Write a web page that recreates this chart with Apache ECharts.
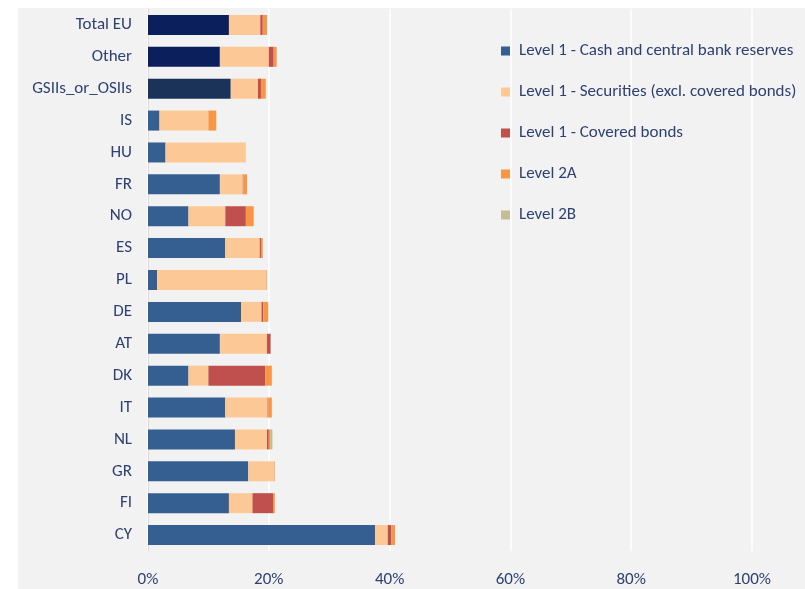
<!DOCTYPE html>
<html>
<head>
<meta charset="utf-8">
<script src="https://cdn.jsdelivr.net/npm/echarts@6/dist/echarts.min.js"></script>
<style>
html,body{margin:0;padding:0;background:#ffffff;}
#chart{position:absolute;left:18px;top:8px;width:787px;height:581px;background:#f2f2f2;}
</style>
</head>
<body>
<div id="chart"></div>
<script>
const categories = ["Total EU","Other","GSIIs_or_OSIIs","IS","HU","FR","NO","ES","PL","DE","AT","DK","IT","NL","GR","FI","CY"];
const seriesNames = ["Level 1 - Cash and central bank reserves","Level 1 - Securities (excl. covered bonds)","Level 1 - Covered bonds","Level 2A","Level 2B"];
const cashReserves = [13.4,11.9,13.7,1.9,2.9,11.9,6.7,12.8,1.5,15.4,11.9,6.7,12.8,14.4,16.6,13.4,37.6];
const securities   = [5.2,8.1,4.5,8.1,13.3,3.8,6.1,5.7,18.1,3.4,7.8,3.3,7.0,5.3,4.3,3.9,2.1];
const coveredBonds = [0.4,0.8,0.5,0,0,0.1,3.4,0.2,0,0.3,0.6,9.4,0.1,0.3,0,3.4,0.6];
const level2A      = [0.7,0.5,0.8,1.3,0,0.6,1.3,0.3,0.1,0.8,0,1.1,0.6,0.2,0.1,0.3,0.6];
const level2B      = [0,0,0,0,0,0,0,0,0,0,0,0,0,0.4,0,0,0];
const xTicks = [0,20,40,60,80,100];
const cashColors = ["#0a1f5c","#0a1f5c","#1b3358"];
const palette = ["#355f91","#fcc996","#c0504d","#f79646","#c4bd97"];

const font = "Carlito, 'Liberation Sans Narrow', Lato, sans-serif";
const txt = "#2f4170";

const chart = echarts.init(document.getElementById('chart'), null, {renderer:'canvas'});
const dataSets = [cashReserves, securities, coveredBonds, level2A, level2B];
const series = seriesNames.map((name, si) => ({
  name: name,
  type: 'bar',
  stack: 'total',
  barWidth: 20,
  itemStyle: {color: palette[si]},
  data: dataSets[si].map((v, i) => (si === 0 && i < cashColors.length) ? {value: v, itemStyle: {color: cashColors[i]}} : v)
}));

chart.setOption({
  backgroundColor: '#f2f2f2',
  animation: false,
  textStyle: {fontFamily: font},
  grid: {left: 130, right: 53, top: 1, bottom: 38, containLabel: false},
  legend: {
    orient: 'vertical',
    left: 478,
    top: 28,
    icon: 'rect',
    itemWidth: 9,
    itemHeight: 9,
    itemGap: 21,
    data: seriesNames,
    textStyle: {color: txt, fontSize: 17, fontFamily: font, lineHeight: 20, padding: [0, 0, 0, 4]}
  },
  xAxis: {
    type: 'value',
    min: xTicks[0],
    max: xTicks[xTicks.length - 1],
    interval: 20,
    axisLine: {show: false},
    axisTick: {show: false},
    splitLine: {show: true, lineStyle: {color: '#ffffff', width: 1.5}},
    axisLabel: {formatter: '{value}%', color: txt, fontSize: 17, margin: 20, fontFamily: font}
  },
  yAxis: {
    type: 'category',
    inverse: true,
    data: categories,
    axisLine: {show: true, lineStyle: {color: '#d9d9d9', width: 1}},
    axisTick: {show: false},
    axisLabel: {color: txt, fontSize: 17, margin: 16, fontFamily: font}
  },
  series: series
});
</script>
</body>
</html>
